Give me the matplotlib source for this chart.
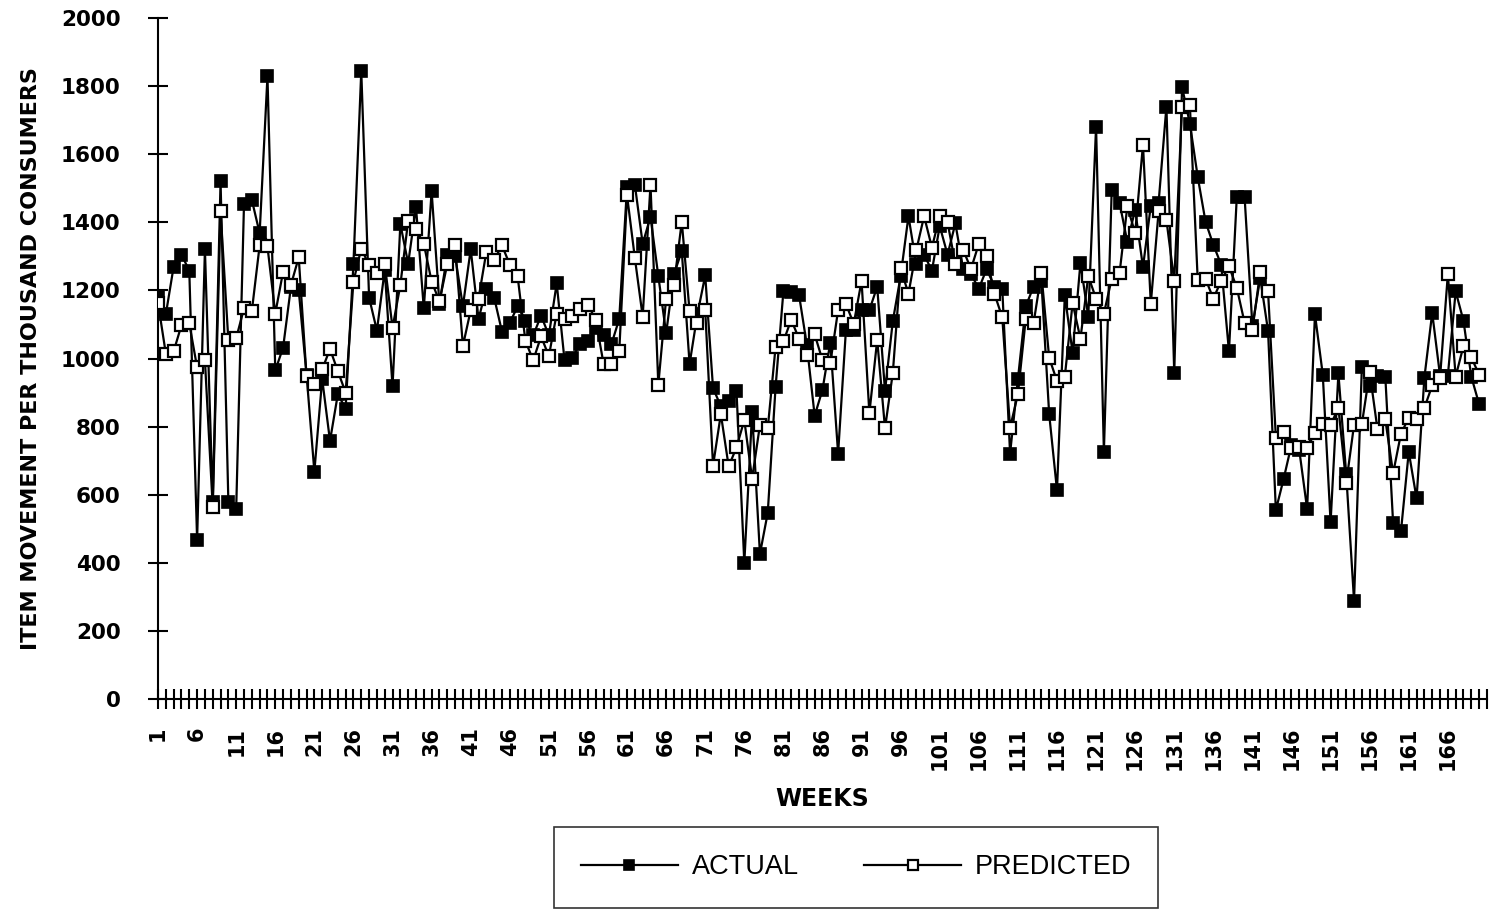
import numpy as np
import matplotlib
matplotlib.use("Agg")
import matplotlib.pyplot as plt
from matplotlib.ticker import MultipleLocator

# weekly item movement per thousand consumers, weeks 1..170
actual = [1180, 1130, 1270, 1305, 1258, 468, 1321, 580, 1520, 579,
          558, 1455, 1466, 1368, 1829, 965, 1032, 1210, 1200, 953,
          668, 940, 758, 895, 853, 1279, 1844, 1179, 1082, 1260,
          918, 1395, 1279, 1445, 1147, 1491, 1160, 1305, 1302, 1153,
          1321, 1116, 1205, 1179, 1079, 1105, 1153, 1111, 1068, 1126,
          1068, 1221, 995, 1002, 1044, 1050, 1089, 1068, 1042, 1116,
          1505, 1510, 1337, 1416, 1242, 1074, 1247, 1316, 984, 1130,
          1244, 913, 860, 874, 905, 400, 842, 426, 547, 916,
          1197, 1195, 1187, 1040, 832, 908, 1047, 721, 1084, 1084,
          1142, 1142, 1211, 905, 1110, 1242, 1418, 1277, 1305, 1258,
          1389, 1305, 1397, 1263, 1248, 1205, 1263, 1211, 1205, 721,
          939, 1153, 1211, 1229, 837, 613, 1186, 1016, 1281, 1123,
          1681, 726, 1495, 1458, 1342, 1437, 1268, 1449, 1458, 1740,
          958, 1797, 1690, 1534, 1402, 1334, 1276, 1021, 1474, 1474,
          1095, 1237, 1081, 555, 647, 747, 730, 558, 1130, 953,
          519, 956, 660, 289, 974, 920, 948, 947, 516, 492,
          726, 589, 944, 1134, 950, 950, 1197, 1111, 947, 866]

predicted = [1163, 1014, 1021, 1098, 1103, 974, 995, 563, 1432, 1053,
             1060, 1147, 1139, 1332, 1329, 1132, 1255, 1216, 1297, 948,
             926, 968, 1028, 963, 900, 1226, 1323, 1274, 1250, 1279,
             1090, 1216, 1405, 1379, 1337, 1226, 1168, 1277, 1332, 1037,
             1142, 1176, 1313, 1290, 1332, 1276, 1242, 1051, 995, 1065,
             1007, 1132, 1116, 1124, 1145, 1158, 1113, 984, 984, 1021,
             1479, 1295, 1123, 1510, 923, 1176, 1216, 1402, 1139, 1105,
             1142, 685, 837, 683, 739, 819, 647, 805, 795, 1034,
             1050, 1114, 1058, 1011, 1071, 995, 986, 1142, 1160, 1102,
             1228, 839, 1055, 795, 958, 1265, 1190, 1318, 1418, 1326,
             1418, 1400, 1277, 1319, 1263, 1337, 1300, 1190, 1121, 797,
             895, 1116, 1103, 1250, 1002, 934, 947, 1163, 1058, 1242,
             1176, 1132, 1234, 1250, 1447, 1368, 1628, 1161, 1432, 1407,
             1228, 1739, 1744, 1232, 1234, 1176, 1228, 1271, 1208, 1105,
             1084, 1255, 1197, 768, 784, 737, 740, 737, 782, 807,
             805, 855, 634, 805, 807, 960, 792, 821, 663, 779,
             826, 821, 855, 921, 944, 1247, 947, 1037, 1003, 953]

weeks = np.arange(1, len(actual) + 1)
week_labels = list(range(1, 167, 5))
y_ticks = list(range(0, 2001, 200))

fig = plt.figure(figsize=(14.95, 9.14), dpi=100)
ax = fig.add_axes([0.1057, 0.2352, 0.8889, 0.7451])

ax.plot(weeks, actual, color="black", lw=1.6, marker="s", ms=8,
        mfc="black", mec="black", mew=1.2, label="ACTUAL", zorder=3)
ax.plot(weeks, predicted, color="black", lw=1.6, marker="s", ms=8,
        mfc="white", mec="black", mew=1.6, label="PREDICTED", zorder=4)

ax.set_xlim(1, 171)
ax.set_ylim(0, 2000)
ax.spines["top"].set_visible(False)
ax.spines["right"].set_visible(False)
ax.spines["left"].set_linewidth(1.5)
ax.spines["bottom"].set_linewidth(1.5)

ax.set_yticks(y_ticks)
ax.set_yticklabels([str(v) for v in y_ticks], fontsize=15.5, fontweight="bold")
ax.tick_params(axis="y", direction="inout", length=14, width=1.5, pad=20)

ax.set_xticks(week_labels)
ax.set_xticklabels([str(w) for w in week_labels], rotation=90,
                   fontsize=15, fontweight="bold")
ax.xaxis.set_minor_locator(MultipleLocator(1))
ax.tick_params(axis="x", which="both", direction="inout", length=14,
               width=1.5, pad=13)

ax.set_xlabel("WEEKS", fontsize=17, fontweight="bold", labelpad=12)
ax.set_ylabel("ITEM MOVEMENT PER THOUSAND CONSUMERS", fontsize=16,
              fontweight="bold", labelpad=14)

leg = fig.legend(loc="center", bbox_to_anchor=(0.5726, 0.0509), ncol=2,
                 frameon=True, fancybox=False, edgecolor="black",
                 prop={"family": "Liberation Sans", "size": 19.5},
                 handlelength=3.6, columnspacing=2.4, borderpad=1.0,
                 handletextpad=0.5, markerscale=0.9)
leg.get_frame().set_linewidth(1.2)

fig.savefig("out.png", dpi=100, facecolor="white")
